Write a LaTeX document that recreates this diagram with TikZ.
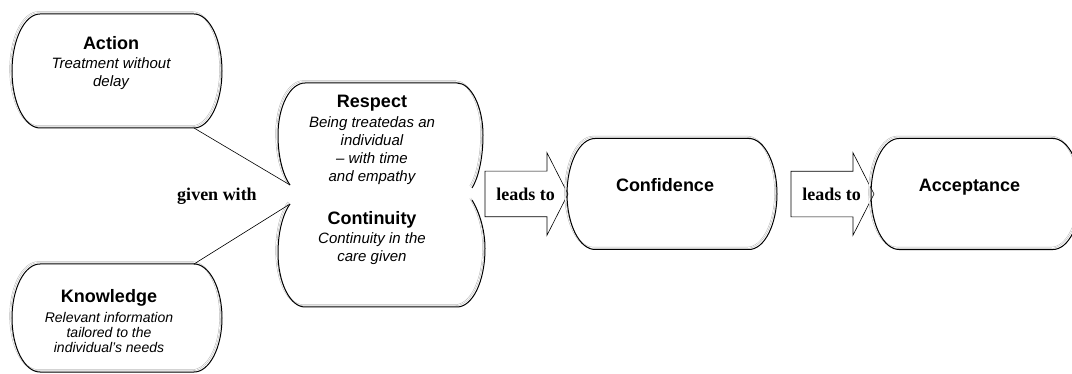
\documentclass[tikz,border=0pt]{standalone}
\usepackage{fontspec}
\setmainfont{Liberation Serif}
\setsansfont{Liberation Sans}
\usepackage{tikz}
\usetikzlibrary{shapes.arrows, calc, positioning}
\tikzstyle{pill} = [rectangle, minimum width=210pt, minimum height=111pt, inner sep=0pt, outer sep=0pt]
\tikzstyle{pilltext} = [align=center, inner sep=0pt, font=\sffamily\itshape\fontsize{15}{18.5}\selectfont]
\tikzstyle{pillline} = [draw=black, line width=1pt, preaction={draw=gray!60, double=white, double distance=0.7pt, line width=0.45pt, transform canvas={shift={(-1.8pt,1.8pt)}}}]
\tikzstyle{leadsto} = [single arrow, draw=black, line width=0.6pt, single arrow head extend=18.5pt, single arrow tip angle=126, single arrow head indent=0pt, minimum height=83pt, text height=12.3pt, text depth=0pt, inner xsep=0pt, inner ysep=16.35pt, outer sep=0pt, font=\rmfamily\bfseries\fontsize{18}{20}\selectfont]
\tikzstyle{linklabel} = [inner sep=0pt, font=\rmfamily\bfseries\fontsize{18}{20}\selectfont]
\tikzstyle{joinline} = [draw=black, line width=0.6pt]
\newcommand{\pilltitle}[1]{{\fontsize{18}{20}\selectfont\bfseries\upshape #1}}
\newcommand{\pillpath}[1]{%
  ($(#1.north west)+(28,0)$) -- ($(#1.north east)+(-28,0)$)
  .. controls ($(#1.north east)+(-12.6,0)$) and ($(#1.east)!0.55!(#1.north east)$) .. (#1.east)
  .. controls ($(#1.east)!0.55!(#1.south east)$) and ($(#1.south east)+(-12.6,0)$) .. ($(#1.south east)+(-28,0)$)
  -- ($(#1.south west)+(28,0)$)
  .. controls ($(#1.south west)+(12.6,0)$) and ($(#1.west)!0.55!(#1.south west)$) .. (#1.west)
  .. controls ($(#1.west)!0.55!(#1.north west)$) and ($(#1.north west)+(12.6,0)$) .. cycle}

\begin{document}
\begin{tikzpicture}[x=1pt, y=-1pt, node distance = 5mm]
		\useasboundingbox (0,0) rectangle (1072,374);
		% frames
		\node (Action) [pill, minimum height=114pt] at (117,71) {};
		\node (Knowledge) [pill, minimum height=108pt, below = 136pt of Action] {};
		\node (Respect) [pill, minimum width=207pt, minimum height=105pt] at (381.5,135.5) {};
		\node (Continuity) [pill, minimum width=207pt, minimum height=107pt, below = 12pt of Respect] {};
		\node (LeadsTo01) [leadsto, anchor=west] at ($(Respect.south east)!0.5!(Continuity.north east)$) {\hspace*{10pt}leads to};
		\node (Confidence) [pill, right = -1pt of LeadsTo01] {};
		\node (LeadsTo02) [leadsto, right = 14pt of Confidence] {\hspace*{10pt}leads to};
		\node (Acceptance) [pill, right = -3pt of LeadsTo02] {};
		
		% texts
		\node (ActionText) [pilltext, xshift=-6pt, yshift=7.5pt] at (Action) {\pilltitle{Action}\\Treatment without\\delay};
		\node (KnowledgeText) [pilltext, font=\sffamily\itshape\fontsize{14}{15}\selectfont, xshift=-8pt, yshift=-3.5pt] at (Knowledge) {\pilltitle{Knowledge}\\[5pt]Relevant information\\tailored to the\\individual’s needs};
		\node (RespectText) [pilltext, font=\sffamily\itshape\fontsize{15}{18}\selectfont, xshift=-9.5pt, yshift=-4.5pt] at (Respect) {\pilltitle{Respect}\\[2pt]Being treatedas an\\individual\\-- with time\\and empathy};
		\node (ContinuityText) [pilltext, xshift=-9.5pt, yshift=15pt] at (Continuity) {\pilltitle{Continuity}\\Continuity in the\\care given};
		\node (ConfidenceText) [pilltext, xshift=-7pt, yshift=9pt] at (Confidence) {\pilltitle{Confidence}};
		\node (AcceptanceText) [pilltext, xshift=-6.5pt, yshift=7pt] at (Acceptance) {\pilltitle{Acceptance}};
		\node (GivenWith) [linklabel, anchor=base] at (217,200.5) {given with};
		
		\foreach \n in {Action,Knowledge,Confidence,Acceptance}
			\draw [pillline] \pillpath{\n};
		\draw [pillline, shift={(Respect.center)}] (-91.5,49.5) .. controls (-97,42) and (-103.5,25) .. (-103.5,-0.5)
			.. controls (-103.5,-29) and (-91.5,-52.5) .. (-76.5,-52.5) -- (75.5,-52.5)
			.. controls (89.5,-52.5) and (101.5,-29) .. (101.5,-0.5)
			.. controls (101.5,25) and (96,44) .. (90.5,52.5);
		\draw [pillline, shift={(Continuity.center)}] (-91.5,-49.5) .. controls (-97,-42) and (-103.5,-25) .. (-103.5,-0.5)
			.. controls (-103.5,29) and (-91.5,53.5) .. (-76.5,53.5) -- (75.5,53.5)
			.. controls (90.5,53.5) and (103.5,29) .. (103.5,-5)
			.. controls (103.5,-25) and (97,-43) .. (90.5,-53.5);
		
		\coordinate (ActionCorner) at ($(Action.south east)+(-28,0)$);
		\coordinate (KnowledgeCorner) at ($(Knowledge.north east)+(-28,0)$);
		\coordinate (PinchUp) at ($(Respect.center)+(-91.5,49.5)$);
		\coordinate (PinchLow) at ($(Continuity.center)+(-91.5,-49.5)$);
		\draw [joinline] (ActionCorner) -- (PinchUp);
		\draw [joinline] (KnowledgeCorner) -- (PinchLow);
\end{tikzpicture}
\end{document}
